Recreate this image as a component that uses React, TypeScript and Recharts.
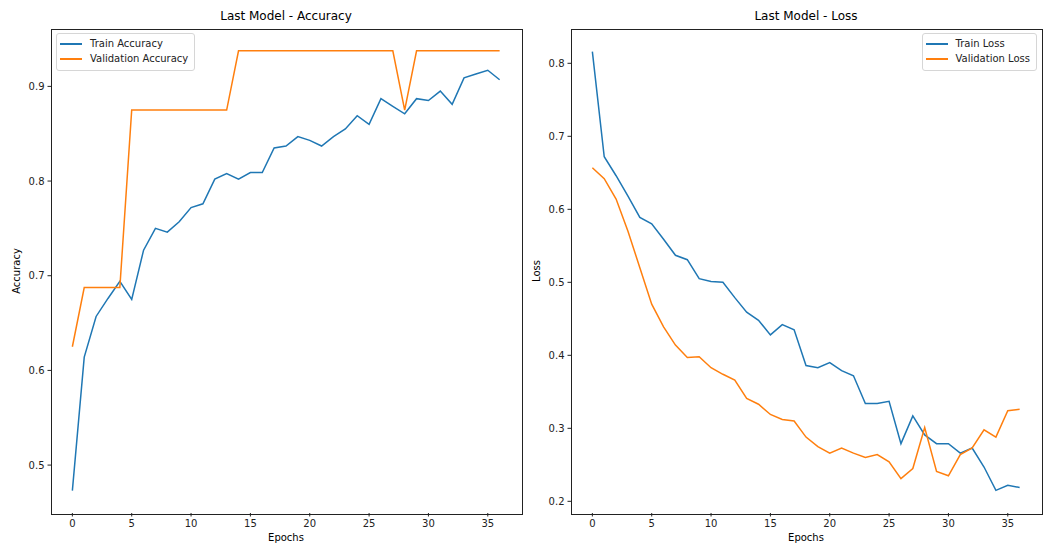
import React from 'react';
import { LineChart, Line, XAxis, YAxis } from 'recharts';

const EPOCHS = [0, 1, 2, 3, 4, 5, 6, 7, 8, 9, 10, 11, 12, 13, 14, 15, 16, 17, 18, 19, 20, 21, 22, 23, 24, 25, 26, 27, 28, 29, 30, 31, 32, 33, 34, 35, 36];

const TRAIN_ACC = [0.473, 0.614, 0.657, 0.676, 0.694, 0.675, 0.727, 0.750, 0.746, 0.757, 0.772, 0.776, 0.802, 0.808, 0.802, 0.809, 0.809, 0.835, 0.837, 0.847, 0.843, 0.837, 0.847, 0.855, 0.869, 0.860, 0.887, 0.879, 0.871, 0.887, 0.885, 0.895, 0.881, 0.909, 0.913, 0.917, 0.907];
const VAL_ACC = [0.625, 0.6875, 0.6875, 0.6875, 0.6875, 0.875, 0.875, 0.875, 0.875, 0.875, 0.875, 0.875, 0.875, 0.875, 0.9375, 0.9375, 0.9375, 0.9375, 0.9375, 0.9375, 0.9375, 0.9375, 0.9375, 0.9375, 0.9375, 0.9375, 0.9375, 0.9375, 0.875, 0.9375, 0.9375, 0.9375, 0.9375, 0.9375, 0.9375, 0.9375, 0.9375];

const TRAIN_LOSS = [0.816, 0.672, 0.646, 0.618, 0.589, 0.580, 0.559, 0.537, 0.531, 0.505, 0.501, 0.500, 0.479, 0.459, 0.448, 0.428, 0.442, 0.435, 0.386, 0.383, 0.390, 0.379, 0.372, 0.334, 0.334, 0.337, 0.279, 0.317, 0.291, 0.279, 0.279, 0.266, 0.273, 0.247, 0.215, 0.222, 0.219];
const VAL_LOSS = [0.657, 0.642, 0.614, 0.570, 0.520, 0.470, 0.439, 0.414, 0.397, 0.398, 0.383, 0.374, 0.366, 0.341, 0.333, 0.319, 0.312, 0.310, 0.288, 0.275, 0.266, 0.273, 0.266, 0.260, 0.264, 0.254, 0.231, 0.245, 0.301, 0.241, 0.235, 0.264, 0.273, 0.298, 0.288, 0.324, 0.326];

const X_TICKS = [0, 5, 10, 15, 20, 25, 30, 35];
const ACC_TICKS = [0.5, 0.6, 0.7, 0.8, 0.9];
const LOSS_TICKS = [0.2, 0.3, 0.4, 0.5, 0.6, 0.7, 0.8];

const BLUE = '#1f77b4';
const ORANGE = '#ff7f0e';
const FONT = '"DejaVu Sans", sans-serif';

const accData = EPOCHS.map((e, i) => ({ epoch: e, train: TRAIN_ACC[i], val: VAL_ACC[i] }));
const lossData = EPOCHS.map((e, i) => ({ epoch: e, train: TRAIN_LOSS[i], val: VAL_LOSS[i] }));

const tickStyle = { fontSize: 10, fill: '#222', fontFamily: FONT };

type PanelProps = {
  left: number;
  title: string;
  yLabel: string;
  data: { epoch: number; train: number; val: number }[];
  domain: [number, number];
  ticks: number[];
  trainName: string;
  valName: string;
  legendRight?: boolean;
};

const Panel = ({ left, title, yLabel, data, domain, ticks, trainName, valName, legendRight }: PanelProps) => {
  return (
    <div style={{ position: 'absolute', left, top: 0, width: 523, height: 546 }}>
      <LineChart width={523} height={546} data={data} margin={{ top: 29, right: 2, left: 0, bottom: 0 }}>
        <XAxis
          dataKey="epoch"
          type="number"
          domain={[-1.8, 37.8]}
          ticks={X_TICKS}
          allowDataOverflow
          height={33}
          tick={tickStyle}
          tickSize={3.5}
          tickMargin={3}
          axisLine={false}
          tickLine={{ stroke: '#222' }}
        />
        <YAxis
          type="number"
          domain={domain}
          ticks={ticks}
          allowDataOverflow
          width={51}
          tick={tickStyle}
          tickSize={3.5}
          tickMargin={3}
          axisLine={false}
          tickLine={{ stroke: '#222' }}
          tickFormatter={(v: number) => v.toFixed(1)}
        />
        <Line type="linear" dataKey="train" name={trainName} stroke={BLUE} strokeWidth={1.5} dot={false} isAnimationActive={false} />
        <Line type="linear" dataKey="val" name={valName} stroke={ORANGE} strokeWidth={1.5} dot={false} isAnimationActive={false} />
      </LineChart>

      {/* axes frame */}
      <div style={{ position: 'absolute', left: 50.5, top: 28.5, width: 470, height: 484, border: '1px solid #222', pointerEvents: 'none' }} />

      {/* title and axis labels */}
      <div style={{ position: 'absolute', left: 51, width: 470, top: 9, textAlign: 'center', fontSize: 12, lineHeight: '14px', fontFamily: FONT, color: '#000' }}>
        {title}
      </div>
      <div style={{ position: 'absolute', left: 51, width: 470, top: 532, textAlign: 'center', fontSize: 10, lineHeight: '12px', fontFamily: FONT, color: '#000' }}>
        Epochs
      </div>
      <div
        style={{
          position: 'absolute', left: 17, top: 271, width: 200, marginLeft: -100, marginTop: -6,
          textAlign: 'center', fontSize: 10, lineHeight: '12px', fontFamily: FONT, color: '#000',
          transform: 'rotate(-90deg)',
        }}
      >
        {yLabel}
      </div>

      {/* legend */}
      <div
        style={{
          position: 'absolute', top: 33, ...(legendRight ? { right: 6 } : { left: 56 }),
          border: '1px solid #d6d6d6', borderRadius: 3, background: 'rgba(255,255,255,0.8)',
          padding: '2px 6px 3px 3px', fontFamily: FONT, fontSize: 10, color: '#222',
        }}
      >
        {[{ name: trainName, color: BLUE }, { name: valName, color: ORANGE }].map((it) => (
          <div key={it.name} style={{ display: 'flex', alignItems: 'center', height: 15.5 }}>
            <div style={{ width: 22, height: 2, background: it.color, marginRight: 8 }} />
            <span style={{ lineHeight: '12px' }}>{it.name}</span>
          </div>
        ))}
      </div>
    </div>
  );
};

const App: React.FC = () => {
  return (
    <div style={{ position: 'absolute', left: 0, top: 0, width: 1046, height: 546, background: '#fff', fontFamily: FONT }}>
      <Panel
        left={0}
        title="Last Model - Accuracy"
        yLabel="Accuracy"
        data={accData}
        domain={[0.4494, 0.9606]}
        ticks={ACC_TICKS}
        trainName="Train Accuracy"
        valName="Validation Accuracy"
      />
      <Panel
        left={520}
        title="Last Model - Loss"
        yLabel="Loss"
        data={lossData}
        domain={[0.184, 0.847]}
        ticks={LOSS_TICKS}
        trainName="Train Loss"
        valName="Validation Loss"
        legendRight
      />
    </div>
  );
};

export default App;
